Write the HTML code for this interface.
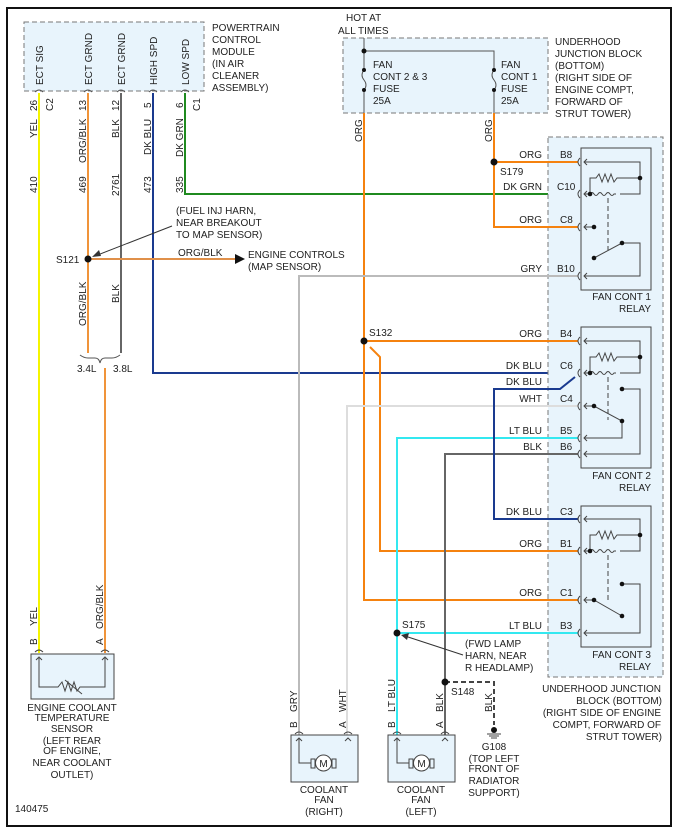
<!DOCTYPE html>
<html><head><meta charset="utf-8"><style>
html,body{margin:0;padding:0;background:#fff;}
svg{display:block;font-family:"Liberation Sans",Arial,sans-serif;}
text{font-size:10px;fill:#222;}
</style></head><body>
<svg width="679" height="832" viewBox="0 0 679 832" xmlns="http://www.w3.org/2000/svg">
<rect x="7" y="8" width="664" height="818" fill="#fff" stroke="#111" stroke-width="2"/>
<!-- PCM box -->
<rect x="24" y="22" width="180" height="69" fill="#e8f4fc" stroke="#777" stroke-dasharray="5,3"/>
<g>
<text transform="translate(43,85) rotate(-90)">ECT SIG</text>
<text transform="translate(92,85) rotate(-90)">ECT GRND</text>
<text transform="translate(125,85) rotate(-90)">ECT GRND</text>
<text transform="translate(157,85) rotate(-90)">HIGH SPD</text>
<text transform="translate(189,85) rotate(-90)">LOW SPD</text>
</g>
<text x="212" y="31">POWERTRAIN</text>
<text x="212" y="43">CONTROL</text>
<text x="212" y="55">MODULE</text>
<text x="212" y="67">(IN AIR</text>
<text x="212" y="79">CLEANER</text>
<text x="212" y="91">ASSEMBLY)</text>
<!-- wires from PCM -->
<g fill="none" stroke-width="2">
<line x1="39" y1="93" x2="39" y2="653" stroke="#f5f500"/>
<line x1="88" y1="93" x2="88" y2="353" stroke="#f0943a"/>
<line x1="121" y1="93" x2="121" y2="353" stroke="#666"/>
<polyline points="153,93 153,373 578,373" stroke="#1a3a8f"/>
<polyline points="185,93 185,194 578,194" stroke="#1f8a1f"/>
<line x1="105" y1="368" x2="105" y2="653" stroke="#f0943a"/>
<line x1="88" y1="259" x2="235" y2="259" stroke="#e0904a"/>
</g>
<g fill="none" stroke="#555" stroke-width="1">
<path d="M35,92 q4,-4 8,0 M84,92 q4,-4 8,0 M117,92 q4,-4 8,0 M149,92 q4,-4 8,0 M181,92 q4,-4 8,0"/>
<path d="M80,355 q4,3 8,3 h7 q4,0 5,5 q1,-5 5,-5 h7 q4,0 8,-3"/>
</g>
<polygon points="235,254 245,259 235,264" fill="#111"/>
<g>
<text transform="translate(37,111) rotate(-90)">26</text>
<text transform="translate(53,111) rotate(-90)">C2</text>
<text transform="translate(86,111) rotate(-90)">13</text>
<text transform="translate(119,111) rotate(-90)">12</text>
<text transform="translate(151,108) rotate(-90)">5</text>
<text transform="translate(183,108) rotate(-90)">6</text>
<text transform="translate(200,111) rotate(-90)">C1</text>
<text transform="translate(37,138) rotate(-90)">YEL</text>
<text transform="translate(86,163) rotate(-90)">ORG/BLK</text>
<text transform="translate(119,138) rotate(-90)">BLK</text>
<text transform="translate(151,155) rotate(-90)">DK BLU</text>
<text transform="translate(183,157) rotate(-90)">DK GRN</text>
<text transform="translate(37,193) rotate(-90)">410</text>
<text transform="translate(86,193) rotate(-90)">469</text>
<text transform="translate(119,196) rotate(-90)">2761</text>
<text transform="translate(151,193) rotate(-90)">473</text>
<text transform="translate(183,193) rotate(-90)">335</text>
<text transform="translate(86,326) rotate(-90)">ORG/BLK</text>
<text transform="translate(119,303) rotate(-90)">BLK</text>
</g>
<text x="176" y="214">(FUEL INJ HARN,</text>
<text x="176" y="226">NEAR BREAKOUT</text>
<text x="176" y="238">TO MAP SENSOR)</text>
<line x1="172" y1="226" x2="95" y2="256" stroke="#333"/>
<polygon points="92,257 99,250 101,256" fill="#333"/>
<circle cx="88" cy="259" r="3.5" fill="#111"/>
<text x="56" y="263">S121</text>
<text x="178" y="256">ORG/BLK</text>
<text x="248" y="258">ENGINE CONTROLS</text>
<text x="248" y="270">(MAP SENSOR)</text>
<text x="77" y="372">3.4L</text>
<text x="113" y="372">3.8L</text>
<!-- ECT sensor -->
<rect x="31" y="654" width="83" height="45" fill="#e8f4fc" stroke="#444"/>
<polyline points="39,658 39,687 58,687 62,682 65,691 68,682 71,691 74,682 77,691 80,687 105,687 105,658" fill="none" stroke="#444"/>
<line x1="65" y1="680" x2="82" y2="694" stroke="#444"/>
<path d="M35,652 q4,-4 8,0 M101,652 q4,-4 8,0 M36,660 l3,-3 3,3 M102,660 l3,-3 3,3" fill="none" stroke="#444"/>
<text transform="translate(37,645) rotate(-90)">B</text>
<text transform="translate(37,626) rotate(-90)">YEL</text>
<text transform="translate(103,645) rotate(-90)">A</text>
<text transform="translate(103,629) rotate(-90)">ORG/BLK</text>
<g text-anchor="middle">
<text x="72" y="711">ENGINE COOLANT</text>
<text x="72" y="721">TEMPERATURE</text>
<text x="72" y="732">SENSOR</text>
<text x="72" y="744">(LEFT REAR</text>
<text x="72" y="754">OF ENGINE,</text>
<text x="72" y="766">NEAR COOLANT</text>
<text x="72" y="778">OUTLET)</text>
</g>
<text x="15" y="812">140475</text>
<!-- top junction block -->
<text x="346" y="21">HOT AT</text>
<text x="338" y="34">ALL TIMES</text>
<rect x="343" y="38" width="205" height="75" fill="#e8f4fc" stroke="#777" stroke-dasharray="5,3"/>
<g fill="none" stroke="#555">
<polyline points="364,38 364,70"/>
<path d="M364,70 q-4,5 0,10 q4,5 0,10"/>
<line x1="364" y1="90" x2="364" y2="113"/>
<polyline points="364,51 494,51 494,70"/>
<path d="M494,70 q-4,5 0,10 q4,5 0,10"/>
<line x1="494" y1="90" x2="494" y2="113"/>
</g>
<circle cx="364" cy="51" r="2.5" fill="#111"/>
<circle cx="364" cy="70" r="2" fill="#111"/><circle cx="364" cy="90" r="2" fill="#111"/>
<circle cx="494" cy="70" r="2" fill="#111"/><circle cx="494" cy="90" r="2" fill="#111"/>
<text x="373" y="68">FAN</text><text x="373" y="80">CONT 2 &amp; 3</text><text x="373" y="92">FUSE</text><text x="373" y="104">25A</text>
<text x="501" y="68">FAN</text><text x="501" y="80">CONT 1</text><text x="501" y="92">FUSE</text><text x="501" y="104">25A</text>
<text x="555" y="45">UNDERHOOD</text><text x="555" y="57">JUNCTION BLOCK</text><text x="555" y="69">(BOTTOM)</text>
<text x="555" y="81">(RIGHT SIDE OF</text><text x="555" y="93">ENGINE COMPT,</text><text x="555" y="105">FORWARD OF</text><text x="555" y="117">STRUT TOWER)</text>
<text transform="translate(362,142) rotate(-90)">ORG</text>
<text transform="translate(492,142) rotate(-90)">ORG</text>
<!-- relay block -->
<rect x="548" y="137" width="115" height="540" fill="#e8f4fc" stroke="#777" stroke-dasharray="5,3"/>
<!-- wires to relays -->
<g fill="none" stroke-width="2">
<polyline points="364,113 364,600 578,600" stroke="#f5820f"/>
<polyline points="494,113 494,227 578,227" stroke="#f5820f"/>
<line x1="494" y1="162" x2="578" y2="162" stroke="#f5820f"/>
<line x1="364" y1="341" x2="578" y2="341" stroke="#f5820f"/>
<polyline points="370,347 380,357 380,551 578,551" stroke="#f5820f"/>
<polyline points="299,735 299,276 578,276" stroke="#bbb"/>
<polyline points="347,735 347,406 578,406" stroke="#ddd"/>
<polyline points="397,735 397,438 578,438" stroke="#33e8f0"/>
<line x1="397" y1="633" x2="578" y2="633" stroke="#33e8f0"/>
<polyline points="445,682 445,454 578,454" stroke="#666"/>
<line x1="445" y1="682" x2="445" y2="735" stroke="#666"/>
<polyline points="575,377 560,389 494,389 494,519 578,519" stroke="#1a3a8f"/>
</g>
<polyline points="445,682 494,682 494,725" fill="none" stroke="#444" stroke-width="2" stroke-dasharray="5,3"/>
<circle cx="494" cy="162" r="3.5" fill="#111"/>
<circle cx="364" cy="341" r="3.5" fill="#111"/>
<circle cx="397" cy="633" r="3.5" fill="#111"/>
<circle cx="445" cy="682" r="3.5" fill="#111"/>
<text x="500" y="175">S179</text>
<text x="369" y="336">S132</text>
<text x="402" y="628">S175</text>
<text x="451" y="695">S148</text>
<!-- wire labels -->
<g text-anchor="end">
<text x="542" y="158">ORG</text><text x="542" y="190">DK GRN</text><text x="542" y="223">ORG</text><text x="542" y="272">GRY</text>
<text x="542" y="337">ORG</text><text x="542" y="369">DK BLU</text><text x="542" y="385">DK BLU</text><text x="542" y="402">WHT</text>
<text x="542" y="434">LT BLU</text><text x="542" y="450">BLK</text><text x="542" y="515">DK BLU</text><text x="542" y="547">ORG</text>
<text x="542" y="596">ORG</text><text x="542" y="629">LT BLU</text>
</g>
<g>
<text x="560" y="158">B8</text><text x="557" y="190">C10</text><text x="560" y="223">C8</text><text x="557" y="272">B10</text>
<text x="560" y="337">B4</text><text x="560" y="369">C6</text><text x="560" y="402">C4</text><text x="560" y="434">B5</text><text x="560" y="450">B6</text>
<text x="560" y="515">C3</text><text x="560" y="547">B1</text><text x="560" y="596">C1</text><text x="560" y="629">B3</text>
</g>
<!-- relays -->
<g fill="none" stroke="#444">
<rect x="581" y="148" width="70" height="142" fill="#e8f4fc"/>
<rect x="581" y="327" width="70" height="141" fill="#e8f4fc"/>
<rect x="581" y="506" width="70" height="141" fill="#e8f4fc"/>
<!-- connector arcs -->
<path d="M580,158 q-4,4 0,8 M580,190 q-4,4 0,8 M580,223 q-4,4 0,8 M580,272 q-4,4 0,8 M580,337 q-4,4 0,8 M580,369 q-4,4 0,8 M580,402 q-4,4 0,8 M580,434 q-4,4 0,8 M580,450 q-4,4 0,8 M580,515 q-4,4 0,8 M580,547 q-4,4 0,8 M580,596 q-4,4 0,8 M580,629 q-4,4 0,8"/>
<path d="M587,159 l-3,3 3,3 M587,191 l-3,3 3,3 M587,224 l-3,3 3,3 M587,273 l-3,3 3,3 M587,338 l-3,3 3,3 M587,370 l-3,3 3,3 M587,403 l-3,3 3,3 M587,435 l-3,3 3,3 M587,451 l-3,3 3,3 M587,516 l-3,3 3,3 M587,548 l-3,3 3,3 M587,597 l-3,3 3,3 M587,630 l-3,3 3,3"/>
<!-- relay1 -->
<polyline points="584,162 640,162 640,194 620,194"/>
<polyline points="590,194 590,178 596,178 599,174 602,182 605,174 608,182 611,174 614,182 617,178 640,178"/>
<path d="M584,194 h6 q2,-3 4,0 q2,3 4,0 q2,-3 4,0 q2,3 4,0 q2,-3 4,0 q2,3 4,0 h2"/>
<line x1="608" y1="198" x2="608" y2="250" stroke-dasharray="5,3"/>
<line x1="584" y1="227" x2="594" y2="227"/>
<polyline points="594,258 622,243 640,243 640,276 584,276"/>
<!-- relay2 -->
<polyline points="584,341 640,341 640,373 620,373"/>
<polyline points="590,373 590,357 596,357 599,353 602,361 605,353 608,361 611,353 614,361 617,357 640,357"/>
<path d="M584,373 h6 q2,-3 4,0 q2,3 4,0 q2,-3 4,0 q2,3 4,0 q2,-3 4,0 q2,3 4,0 h2"/>
<line x1="608" y1="377" x2="608" y2="420" stroke-dasharray="5,3"/>
<polyline points="622,389 640,389 640,454 584,454"/>
<polyline points="584,406 594,406 622,421 622,438 584,438"/>
<!-- relay3 -->
<polyline points="584,519 640,519 640,551 620,551"/>
<polyline points="590,551 590,535 596,535 599,531 602,539 605,531 608,539 611,531 614,539 617,535 640,535"/>
<path d="M584,551 h6 q2,-3 4,0 q2,3 4,0 q2,-3 4,0 q2,3 4,0 q2,-3 4,0 q2,3 4,0 h2"/>
<line x1="608" y1="555" x2="608" y2="600" stroke-dasharray="5,3"/>
<polyline points="622,584 640,584 640,633 584,633"/>
<polyline points="584,600 594,600 622,616"/>
</g>
<g fill="#111">
<circle cx="640" cy="178" r="2.3"/><circle cx="590" cy="194" r="2.3"/><circle cx="594" cy="227" r="2.3"/><circle cx="594" cy="258" r="2.3"/><circle cx="622" cy="243" r="2.3"/>
<circle cx="640" cy="357" r="2.3"/><circle cx="590" cy="373" r="2.3"/><circle cx="622" cy="389" r="2.3"/><circle cx="594" cy="406" r="2.3"/><circle cx="622" cy="421" r="2.3"/>
<circle cx="640" cy="535" r="2.3"/><circle cx="590" cy="551" r="2.3"/><circle cx="622" cy="584" r="2.3"/><circle cx="594" cy="600" r="2.3"/><circle cx="622" cy="616" r="2.3"/>
</g>
<g text-anchor="end">
<text x="651" y="300">FAN CONT 1</text><text x="651" y="312">RELAY</text>
<text x="651" y="479">FAN CONT 2</text><text x="651" y="491">RELAY</text>
<text x="651" y="658">FAN CONT 3</text><text x="651" y="670">RELAY</text>
<text x="661" y="692">UNDERHOOD JUNCTION</text><text x="662" y="704">BLOCK (BOTTOM)</text>
<text x="661" y="716">(RIGHT SIDE OF ENGINE</text><text x="661" y="728">COMPT, FORWARD OF</text><text x="662" y="740">STRUT TOWER)</text>
</g>
<!-- FWD lamp note -->
<text x="465" y="647">(FWD LAMP</text><text x="465" y="659">HARN, NEAR</text><text x="465" y="671">R HEADLAMP)</text>
<line x1="463" y1="655" x2="405" y2="636" stroke="#333"/>
<polygon points="401,635 409,633 407,640" fill="#333"/>
<!-- fans -->
<g fill="#e8f4fc" stroke="#444">
<rect x="291" y="735" width="67" height="47"/>
<rect x="388" y="735" width="67" height="47"/>
</g>
<g fill="none" stroke="#444">
<polyline points="299,738 299,763 311,763 M348,738 348,763 336,763"/>
<polyline points="397,738 397,763 409,763 M445,738 445,763 433,763"/>
<rect x="311" y="759" width="4" height="9"/><rect x="332" y="759" width="4" height="9"/>
<rect x="409" y="759" width="4" height="9"/><rect x="430" y="759" width="4" height="9"/>
<circle cx="323.5" cy="763" r="8" fill="#fff"/><circle cx="421.5" cy="763" r="8" fill="#fff"/>
<path d="M295,734 q4,-4 8,0 M344,734 q4,-4 8,0 M393,734 q4,-4 8,0 M441,734 q4,-4 8,0 M296,741 l3,-3 3,3 M345,741 l3,-3 3,3 M394,741 l3,-3 3,3 M442,741 l3,-3 3,3"/>
</g>
<text x="323.5" y="767" text-anchor="middle" font-size="11">M</text>
<text x="421.5" y="767" text-anchor="middle" font-size="11">M</text>
<text transform="translate(297,728) rotate(-90)">B</text><text transform="translate(297,712) rotate(-90)">GRY</text>
<text transform="translate(346,728) rotate(-90)">A</text><text transform="translate(346,712) rotate(-90)">WHT</text>
<text transform="translate(395,728) rotate(-90)">B</text><text transform="translate(395,712) rotate(-90)">LT BLU</text>
<text transform="translate(443,728) rotate(-90)">A</text><text transform="translate(443,712) rotate(-90)">BLK</text>
<text transform="translate(492,712) rotate(-90)">BLK</text>
<g text-anchor="middle">
<text x="324" y="793">COOLANT</text><text x="324" y="803">FAN</text><text x="324" y="815">(RIGHT)</text>
<text x="421" y="793">COOLANT</text><text x="421" y="803">FAN</text><text x="421" y="815">(LEFT)</text>
<text x="494" y="750">G108</text><text x="494" y="762">(TOP LEFT</text><text x="494" y="772">FRONT OF</text><text x="494" y="784">RADIATOR</text><text x="494" y="796">SUPPORT)</text>
</g>
<circle cx="494" cy="730" r="3" fill="#111"/>
<path d="M487,734 h14 M489,736 h10 M491,738 h6" stroke="#444"/>
</svg>
</body></html>
